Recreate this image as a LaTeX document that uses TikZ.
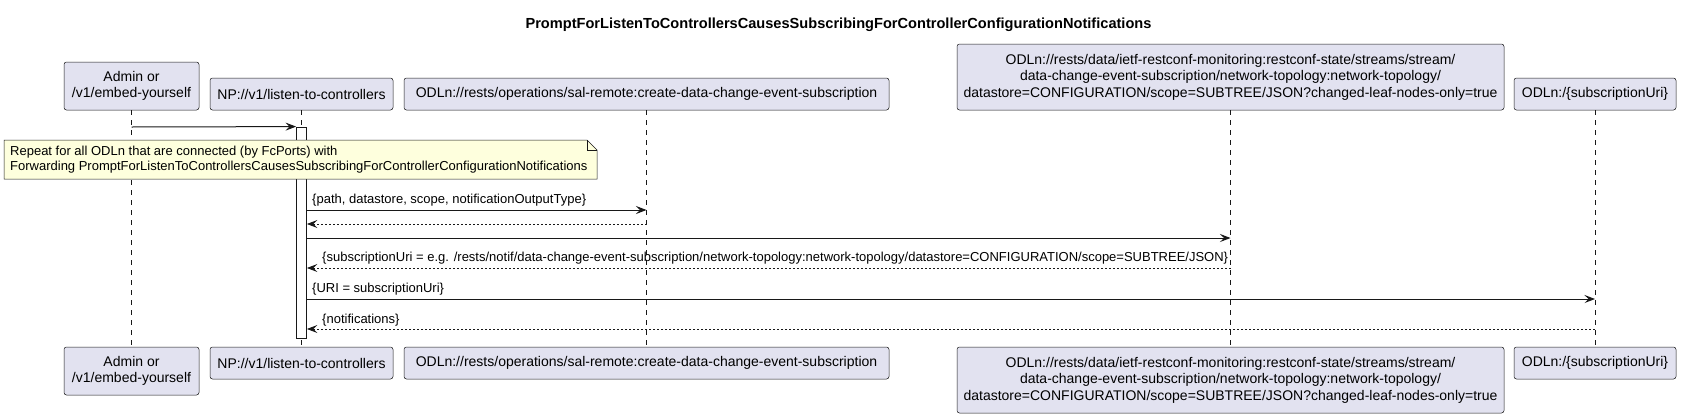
\documentclass[tikz,border=0pt]{standalone}
\usepackage{fontspec}
\setmainfont{Liberation Sans}
\usetikzlibrary{arrows.meta}
\definecolor{pfill}{HTML}{E2E2F0}
\definecolor{pline}{HTML}{181818}
\definecolor{nfill}{HTML}{FEFFDD}
\begin{document}
\begin{tikzpicture}[x=1pt,y=-1pt,
  part/.style={draw=pline, line width=0.5pt, fill=pfill, rounded corners=2.5pt, inner sep=0pt, align=center, font=\fontsize{14}{16.5}\selectfont},
  life/.style={draw=pline, line width=0.5pt, dash pattern=on 5pt off 5pt},
  actbox/.style={draw=pline, line width=0.8pt, fill=white, minimum width=10pt, minimum height=211pt, inner sep=0pt},
  msg/.style={draw=pline, line width=1pt, -{Stealth[length=10.5pt,width=8pt,inset=4pt]}},
  ret/.style={msg, dash pattern=on 2pt off 2pt},
  lbl/.style={anchor=west, inner sep=0pt, font=\fontsize{13}{15}\selectfont},
  notebox/.style={draw=pline, line width=0.5pt, fill=nfill},
]
\useasboundingbox (0,0) rectangle (1681,418);
\fill[white] (0,0) rectangle (1681,418);

\node[font=\bfseries\fontsize{14.6}{16}\selectfont, inner sep=0pt] (title) at (838.5,25) {PromptForListenToControllersCausesSubscribingForControllerConfigurationNotifications};

% top participants
\node[part, minimum width=135pt, minimum height=48pt] (pA) at (131.5,86) {Admin or\\/v1/embed-yourself};
\node[part, minimum width=183pt, minimum height=32pt] (pN) at (301.5,94) {NP://v1/listen-to-controllers};
\node[part, minimum width=485pt, minimum height=32pt] (pC) at (646.5,94) {ODLn://rests/operations/sal-remote:create-data-change-event-subscription};
\node[part, minimum width=547pt, minimum height=66pt] (pB) at (1230.5,77) {ODLn://rests/data/ietf-restconf-monitoring:restconf-state/streams/stream/\\data-change-event-subscription/network-topology:network-topology/\\datastore=CONFIGURATION/scope=SUBTREE/JSON?changed-leaf-nodes-only=true};
\node[part, minimum width=162pt, minimum height=32pt] (pS) at (1595,94) {ODLn:/\{subscriptionUri\}};

% bottom participants
\node[part, minimum width=135pt, minimum height=48pt] (qA) at (131.5,371) {Admin or\\/v1/embed-yourself};
\node[part, minimum width=183pt, minimum height=32pt] (qN) at (301.5,363) {NP://v1/listen-to-controllers};
\node[part, minimum width=485pt, minimum height=32pt] (qC) at (646.5,363) {ODLn://rests/operations/sal-remote:create-data-change-event-subscription};
\node[part, minimum width=547pt, minimum height=66pt] (qB) at (1230.5,380) {ODLn://rests/data/ietf-restconf-monitoring:restconf-state/streams/stream/\\data-change-event-subscription/network-topology:network-topology/\\datastore=CONFIGURATION/scope=SUBTREE/JSON?changed-leaf-nodes-only=true};
\node[part, minimum width=162pt, minimum height=32pt] (qS) at (1595,363) {ODLn:/\{subscriptionUri\}};

% lifelines
\draw[life] (pA.south) -- (qA.north);
\draw[life] (pN.south) -- (qN.north);
\draw[life] (pC.south) -- (qC.north);
\draw[life] (pB.south) -- (qB.north);
\draw[life] (pS.south) -- (qS.north);

% activation
\node[actbox] (act) at (301.5,232.5) {};

% message levels
\coordinate (y1) at (0,127);
\coordinate (y2) at (0,210);
\coordinate (y3) at (0,224);
\coordinate (y4) at (0,238);
\coordinate (y5) at (0,268);
\coordinate (y6) at (0,299);
\coordinate (y7) at (0,329);

\draw[msg] (pA.south |- y1) -- (act.north west);

% note
\draw[notebox] (4,140) -- (587,140) -- (597,150) -- (597,179) -- (4,179) -- cycle;
\draw[draw=pline, line width=0.5pt] (587,140) -- (587,150) -- (597,150);
\node[anchor=west, inner sep=0pt, align=left, font=\fontsize{13}{15.5}\selectfont] (note) at (10,159.5) {Repeat for all ODLn that are connected (by FcPorts) with\\Forwarding PromptForListenToControllersCausesSubscribingForControllerConfigurationNotifications};

\draw[msg] (act.east |- y2) -- (pC.south |- y2);
\node[lbl] (l2) at (312,200) {\{path, datastore, scope, notificationOutputType\}};
\draw[ret] (pC.south |- y3) -- (act.east |- y3);
\draw[msg] (act.east |- y4) -- (pB.south |- y4);
\draw[ret] (pB.south |- y5) -- (act.east |- y5);
\node[lbl] (l5) at (322,258) {\{subscriptionUri = e.g. /rests/notif/data-change-event-subscription/network-topology:network-topology/datastore=CONFIGURATION/scope=SUBTREE/JSON\}};
\draw[msg] (act.east |- y6) -- (pS.south |- y6);
\node[lbl] (l6) at (312,289) {\{URI = subscriptionUri\}};
\draw[ret] (pS.south |- y7) -- (act.east |- y7);
\node[lbl] (l7) at (322,320) {\{notifications\}};
\end{tikzpicture}
\end{document}
